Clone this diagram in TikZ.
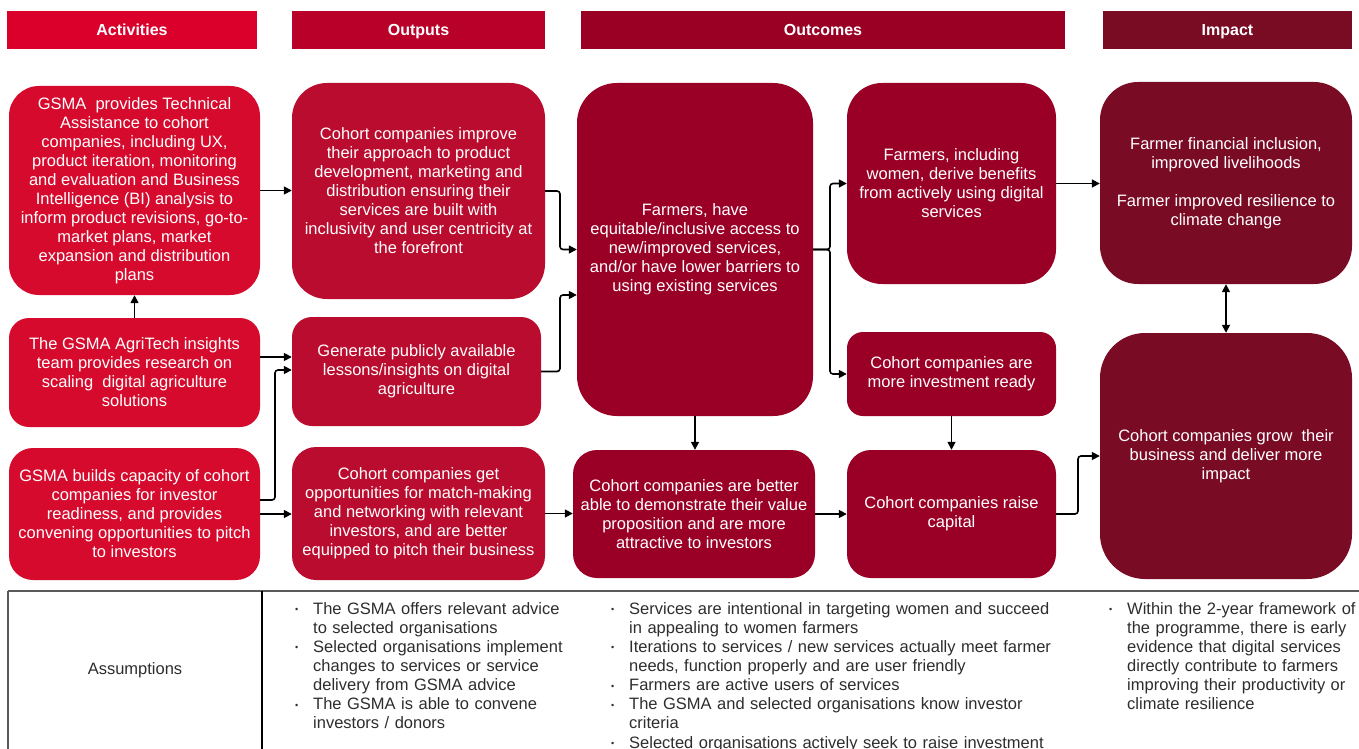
\documentclass[tikz,border=0pt]{standalone}
\usepackage{fontspec}
\setmainfont{Liberation Sans}
\usepackage{graphicx}
\usetikzlibrary{arrows.meta}

\definecolor{hAct}{RGB}{218,0,43}
\definecolor{hOut}{RGB}{184,0,40}
\definecolor{hOutc}{RGB}{153,0,36}
\definecolor{hImp}{RGB}{121,12,34}
\definecolor{cAct}{RGB}{214,10,45}
\definecolor{cOut}{RGB}{186,12,46}
\definecolor{cOutc}{RGB}{154,0,38}
\definecolor{cImp}{RGB}{122,11,36}
\definecolor{asmtext}{RGB}{45,45,45}

% bullet item with hanging indent
\newcommand{\bul}[1]{\par\noindent\hangindent=18pt\hangafter=1%
  \makebox[18pt][l]{\raisebox{1.6pt}{\fontsize{9}{9}\selectfont •}}#1\par}

\begin{document}
\begin{tikzpicture}[x=1pt,y=-1pt,
  boxtxt/.style={text=white, align=center, inner sep=0pt,
    font=\fontsize{16.5}{19}\selectfont},
  hdr/.style={text=white, inner sep=0pt, minimum height=38pt,
    text height=11.5pt, text depth=0pt,
    font=\bfseries\fontsize{16}{19}\selectfont},
  actbox/.style={boxtxt, fill=cAct},
  outbox/.style={boxtxt, fill=cOut},
  outcbox/.style={boxtxt, fill=cOutc},
  impbox/.style={boxtxt, fill=cImp},
  arr/.style={line width=1.6pt, -{Triangle[length=8pt,width=8pt]},
    rounded corners=3pt},
  arrboth/.style={line width=1.6pt,
    {Triangle[length=8pt,width=8pt]}-{Triangle[length=8pt,width=8pt]}},
  asmcol/.style={anchor=north west, inner sep=0pt, text width=#1,
    align=left, text=asmtext, font=\fontsize{16.5}{19.1}\selectfont}
]
\useasboundingbox (0,0) rectangle (1359,749);

% column headers
\node[hdr, fill=hAct, minimum width=250pt] (hA) at (132,30) {Activities};
\node[hdr, fill=hOut, minimum width=253pt] (hO) at (418.5,30) {Outputs};
\node[hdr, fill=hOutc, minimum width=484pt] (hC) at (823,30) {Outcomes};
\node[hdr, fill=hImp, minimum width=249pt] (hI) at (1227.5,30) {Impact};

% activities
\node[actbox, minimum width=251pt, minimum height=209pt, rounded corners=30pt]
  (A1) at (134.5,190.5) {GSMA~ provides Technical\\Assistance to cohort\\companies, including UX,\\product iteration, monitoring\\and evaluation and Business\\Intelligence (BI) analysis to\\inform product revisions, go-to-\\market plans, market\\expansion and distribution\\plans};
\node[actbox, minimum width=251pt, minimum height=109pt, rounded corners=20pt]
  (A2) at (134.5,372.5) {The GSMA AgriTech insights\\team provides research on\\scaling~ digital agriculture\\solutions};
\node[actbox, minimum width=251pt, minimum height=132pt, rounded corners=24pt]
  (A3) at (134.5,514) {GSMA builds capacity of cohort\\companies for investor\\readiness, and provides\\convening opportunities to pitch\\to investors};

% outputs
\node[outbox, minimum width=253pt, minimum height=216pt, rounded corners=35pt]
  (O1) at (418.5,191) {Cohort companies improve\\their approach to product\\development, marketing and\\distribution ensuring their\\services are built with\\inclusivity and user centricity at\\the forefront};
\node[outbox, minimum width=249pt, minimum height=109pt, rounded corners=20pt]
  (O2) at (416.5,371.5) {Generate publicly available\\lessons/insights on digital\\agriculture};
\node[outbox, minimum width=253pt, minimum height=133pt, rounded corners=24pt]
  (O3) at (418.5,513.5) {Cohort companies get\\opportunities for match-making\\and networking with relevant\\investors, and are better\\equipped to pitch their business};

% outcomes
\node[outcbox, minimum width=236pt, minimum height=333pt, rounded corners=40pt]
  (C1) at (695,249.5) {Farmers, have\\equitable/inclusive access to\\new/improved services,\\and/or have lower barriers to\\using existing services};
\node[outcbox, minimum width=209pt, minimum height=201pt, rounded corners=35pt]
  (C2) at (951.5,183.5) {Farmers, including\\women, derive benefits\\from actively using digital\\services};
\node[outcbox, minimum width=209pt, minimum height=84pt, rounded corners=16pt]
  (C3) at (951.5,374) {Cohort companies are\\more investment ready};
\node[outcbox, minimum width=242pt, minimum height=128pt, rounded corners=24pt]
  (C4) at (694,514) {Cohort companies are better\\able to demonstrate their value\\proposition and are more\\attractive to investors};
\node[outcbox, minimum width=209pt, minimum height=128pt, rounded corners=24pt]
  (C5) at (951.5,514) {Cohort companies raise\\capital};

% impact
\node[impbox, minimum width=252pt, minimum height=202pt, rounded corners=38pt]
  (I1) at (1226,183) {Farmer financial inclusion,\\improved livelihoods\\[19pt]Farmer improved resilience to\\climate change};
\node[impbox, minimum width=252pt, minimum height=246pt, rounded corners=45pt]
  (I2) at (1226,456) {Cohort companies grow~ their\\business and deliver more\\impact};

% elbow columns for the connectors
\coordinate (jA) at (275,0);
\coordinate (jB) at (560,0);
\coordinate (jC) at (830,0);
\coordinate (jD) at (1078,0);

% connectors
\draw[arr] (A2.north) -- (A1.south);
\draw[arr] (A1.east) -- (A1.east -| O1.west);
\draw[arr] ([yshift=15.5pt]A2.east) -- ([yshift=15.5pt]A2.east -| O2.west);
\draw[arr] ([yshift=14pt]A3.east) -- ([yshift=14pt]A3.east -| jA) |- ([yshift=1.5pt]O2.west);
\draw[arr] (A3.east) -- (A3.east -| O3.west);
\draw[arr] (O1.east) -- (O1.east -| jB) |- (C1.west);
\draw[arr] (O2.east) -- (O2.east -| jB) |- ([yshift=-45.5pt]C1.west);
\draw[arr] (C1.east) -- (C1.east -| jC) |- (C2.west);
\draw[arr] (C1.east) -- (C1.east -| jC) |- (C3.west);
\draw[arr] (C1.south) -- (C1.south |- C4.north);
\draw[arr] (O3.east) -- (O3.east -| C4.west);
\draw[arr] (C4.east) -- (C4.east -| C5.west);
\draw[arr] (C3.south) -- (C5.north);
\draw[arr] (C5.east) -- (C5.east -| jD) |- (I2.west);
\draw[arr] (C2.east) -- (C2.east -| I1.west);
\draw[arrboth] (I1.south) -- (I2.north);

% assumptions table
\draw[line width=1.5pt, black!65] (8,591) -- (1359,591);
\draw[line width=1.5pt, black!65] (8,591) -- (8,749);
\draw[line width=2pt, black] (262,591) -- (262,749);

\node[text=asmtext, inner sep=0pt, font=\fontsize{16.5}{19}\selectfont]
  (asm) at (135,670) {Assumptions};

\node[asmcol=300pt] (L1) at (295,595) {%
  \bul{The GSMA offers relevant advice\newline to selected organisations}%
  \bul{Selected organisations implement\newline changes to services or service\newline delivery from GSMA advice}%
  \bul{The GSMA is able to convene\newline investors / donors}};

\node[asmcol=480pt] (L2) at (611,595) {%
  \bul{Services are intentional in targeting women and succeed\newline in appealing to women farmers}%
  \bul{Iterations to services / new services actually meet farmer\newline needs, function properly and are user friendly}%
  \bul{Farmers are active users of services}%
  \bul{The GSMA and selected organisations know investor\newline criteria}%
  \bul{Selected organisations actively seek to raise investment}};

\node[asmcol=248pt] (L3) at (1109,595) {%
  \bul{Within the 2-year framework of\newline the programme, there is early\newline evidence that digital services\newline directly contribute to farmers\newline improving their productivity or\newline climate resilience}};
\end{tikzpicture}
\end{document}
